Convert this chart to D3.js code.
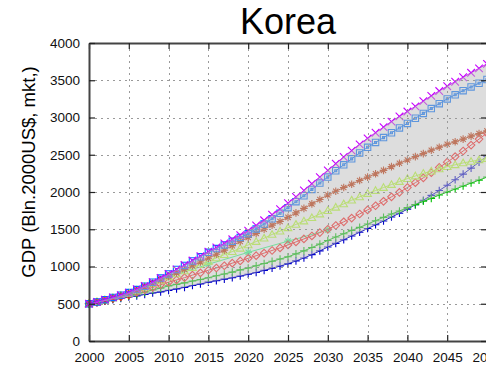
<!DOCTYPE html>
<html>
<head>
<meta charset="utf-8">
<script src="https://cdn.jsdelivr.net/npm/d3@7"></script>
<style>
  html, body { margin: 0; padding: 0; background: #fff; }
  svg { display: block; font-family: "Liberation Sans", Arial, sans-serif; }
</style>
</head>
<body>
<svg id="chart" width="486" height="368"></svg>
<script>
// GDP projections for Korea, billion 2000 US$ at market exchange rates
const years = d3.range(2000, 2051);

const magentaX = [500, 525, 555, 585, 615, 650, 695, 740, 790, 845, 900,
  960, 1020, 1080, 1140, 1200, 1255, 1310, 1365, 1420, 1480,
  1550, 1620, 1695, 1770, 1850, 1935, 2020, 2110, 2200, 2290,
  2380, 2470, 2555, 2640, 2720, 2795, 2870, 2945, 3015, 3080,
  3150, 3220, 3290, 3355, 3420, 3480, 3540, 3600, 3660, 3720];

const blueSquares = [500, 525, 555, 585, 615, 650, 690, 735, 790, 845, 900,
  960, 1015, 1075, 1130, 1190, 1240, 1290, 1340, 1390, 1440,
  1505, 1570, 1640, 1715, 1790, 1870, 1950, 2035, 2120, 2200,
  2285, 2365, 2445, 2525, 2600, 2665, 2730, 2795, 2860, 2920,
  2990, 3055, 3120, 3185, 3250, 3305, 3360, 3410, 3460, 3510];

const brownStars = [500, 525, 550, 580, 610, 640, 680, 725, 770, 820, 870,
  915, 960, 1010, 1060, 1110, 1165, 1220, 1280, 1335, 1390,
  1445, 1500, 1555, 1605, 1660, 1720, 1780, 1840, 1900, 1960,
  2010, 2060, 2105, 2155, 2200, 2245, 2290, 2340, 2385, 2430,
  2475, 2515, 2560, 2600, 2640, 2675, 2710, 2750, 2785, 2820];

const limeTriangles = [500, 525, 550, 580, 610, 640, 680, 725, 770, 815, 860,
  900, 940, 985, 1025, 1070, 1115, 1160, 1200, 1245, 1290,
  1335, 1380, 1430, 1475, 1520, 1565, 1610, 1655, 1705, 1750,
  1795, 1840, 1890, 1935, 1980, 2020, 2060, 2100, 2140, 2180,
  2215, 2250, 2280, 2310, 2340, 2365, 2390, 2410, 2430, 2450];

const redDiamonds = [500, 520, 545, 570, 595, 620, 655, 690, 720, 755, 790,
  820, 850, 885, 915, 950, 980, 1010, 1045, 1075, 1110,
  1145, 1180, 1215, 1250, 1290, 1330, 1370, 1410, 1455, 1500,
  1550, 1600, 1650, 1705, 1760, 1815, 1875, 1935, 1995, 2060,
  2125, 2190, 2260, 2330, 2400, 2475, 2550, 2630, 2710, 2790];

const greenPlus = [500, 520, 540, 560, 580, 600, 625, 655, 685, 710, 740,
  760, 780, 805, 825, 850, 875, 900, 925, 955, 980,
  1010, 1040, 1070, 1100, 1130, 1170, 1210, 1255, 1300, 1350,
  1395, 1440, 1485, 1525, 1570, 1615, 1660, 1705, 1745, 1790,
  1830, 1875, 1915, 1960, 2000, 2040, 2080, 2120, 2160, 2200];

const bluePlus = [500, 515, 535, 555, 570, 590, 605, 625, 645, 660, 680,
  700, 720, 745, 765, 790, 810, 830, 850, 872, 895,
  920, 948, 976, 1006, 1038, 1075, 1115, 1160, 1210, 1262,
  1310, 1360, 1410, 1460, 1510, 1560, 1610, 1665, 1715, 1770,
  1830, 1890, 1955, 2020, 2090, 2165, 2240, 2320, 2400, 2480];

// five-yearly series ending in 2030
const mintYears = [2000, 2005, 2010, 2015, 2020, 2025, 2030];
const mintStars = [500, 640, 860, 1030, 1190, 1340, 1490];

const xTicks = [2000, 2005, 2010, 2015, 2020, 2025, 2030, 2035, 2040, 2045, 2050];
const yTicks = [0, 500, 1000, 1500, 2000, 2500, 3000, 3500, 4000];

const series = [
  { x: years, y: bluePlus,      color: "#0000c8", marker: "plus" },
  { x: years, y: greenPlus,     color: "#00c000", marker: "plus" },
  { x: mintYears, y: mintStars, color: "#30ff80", marker: "star" },
  { x: years, y: redDiamonds,   color: "#ff2020", marker: "diamond" },
  { x: years, y: limeTriangles, color: "#b8ff30", marker: "triangle" },
  { x: years, y: brownStars,    color: "#c03000", marker: "star" },
  { x: years, y: blueSquares,   color: "#0070ff", marker: "square" },
  { x: years, y: magentaX,      color: "#c800ff", marker: "cross" }
];

const svg = d3.select("#chart");
const m = { left: 89, right: 487, top: 43, bottom: 341 };

const x = d3.scaleLinear().domain([2000, 2050]).range([m.left, m.right]);
const y = d3.scaleLinear().domain([0, 4000]).range([m.bottom, m.top]);

// title
svg.append("text")
  .attr("x", (m.left + m.right) / 2).attr("y", 34)
  .attr("text-anchor", "middle")
  .attr("font-size", 36).attr("fill", "#000")
  .text("Korea");

// y axis title
svg.append("text")
  .attr("transform", "translate(30,172) rotate(-90)")
  .attr("text-anchor", "middle")
  .attr("dominant-baseline", "middle")
  .attr("font-size", 18.5).attr("fill", "#000")
  .text("GDP (Bln.2000US$, mkt,)");

// series lines and markers
const line = d3.line().x(d => x(d[0])).y(d => y(d[1]));
const markerPath = {
  plus: s => `M${-s},0H${s}M0,${-s}V${s}`,
  cross: s => `M${-s},${-s}L${s},${s}M${-s},${s}L${s},${-s}`,
  star: s => `M${-s},0H${s}M0,${-s}V${s}M${-s*0.7},${-s*0.7}L${s*0.7},${s*0.7}M${-s*0.7},${s*0.7}L${s*0.7},${-s*0.7}`,
  diamond: s => `M0,${-s}L${s},0L0,${s}L${-s},0Z`,
  triangle: s => `M0,${-s}L${s},${s*0.75}L${-s},${s*0.75}Z`,
  square: s => `M${-s},${-s}H${s}V${s}H${-s}ZM-1,-1H1V1H-1Z`
};

const gSeries = svg.append("g");
series.forEach(sr => {
  const pts = sr.x.map((yr, i) => [yr, sr.y[i]]);
  gSeries.append("path")
    .attr("d", line(pts))
    .attr("fill", "none")
    .attr("stroke", sr.color)
    .attr("stroke-width", 1);
  gSeries.selectAll(null)
    .data(pts)
    .enter().append("path")
    .attr("transform", d => `translate(${x(d[0])},${y(d[1])})`)
    .attr("d", markerPath[sr.marker](sr.marker === "square" ? 3.2 : 3.8))
    .attr("fill", "none")
    .attr("stroke", sr.color)
    .attr("stroke-width", 1.1);
});

// translucent envelope between lowest and highest projection
const annual = series.filter(sr => sr.x === years);
const band = years.map((yr, i) => {
  const vals = annual.map(sr => sr.y[i]);
  return { yr, lo: d3.min(vals), hi: d3.max(vals) };
});
svg.append("path")
  .datum(band)
  .attr("d", d3.area().x(d => x(d.yr)).y0(d => y(d.lo)).y1(d => y(d.hi)))
  .attr("fill", "rgb(187,187,187)")
  .attr("fill-opacity", 0.5);

// dashed grid
const grid = svg.append("g")
  .attr("stroke", "#9a9a9a").attr("stroke-width", 1)
  .attr("stroke-dasharray", "2,4");
grid.selectAll(null).data(xTicks.slice(1, -1)).enter().append("line")
  .attr("x1", d => Math.round(x(d)) + 0.5).attr("x2", d => Math.round(x(d)) + 0.5)
  .attr("y1", m.top).attr("y2", m.bottom);
grid.selectAll(null).data(yTicks.slice(1, -1)).enter().append("line")
  .attr("y1", d => Math.round(y(d)) + 0.5).attr("y2", d => Math.round(y(d)) + 0.5)
  .attr("x1", m.left).attr("x2", m.right);

// axes with inward ticks
const axisStyle = g => {
  g.select(".domain").attr("stroke", "#444").attr("stroke-width", 2);
  g.selectAll(".tick line").attr("stroke", "#222").attr("stroke-width", 1.2);
  g.selectAll(".tick text").attr("font-size", 13.5).attr("fill", "#111")
    .attr("font-family", "'Liberation Sans', Arial, sans-serif");
};

svg.append("g")
  .attr("transform", `translate(0,${m.bottom})`)
  .call(d3.axisBottom(x).tickValues(xTicks).tickFormat(d3.format("d"))
    .tickSizeInner(-6).tickSizeOuter(0).tickPadding(11))
  .call(axisStyle);

svg.append("g")
  .attr("transform", `translate(0,${m.top})`)
  .call(d3.axisTop(x).tickValues(xTicks).tickFormat("")
    .tickSizeInner(-6).tickSizeOuter(0))
  .call(axisStyle);

svg.append("g")
  .attr("transform", `translate(${m.left},0)`)
  .call(d3.axisLeft(y).tickValues(yTicks).tickFormat(d3.format("d"))
    .tickSizeInner(-6).tickSizeOuter(0).tickPadding(9))
  .call(axisStyle);

svg.append("g")
  .attr("transform", `translate(${m.right},0)`)
  .call(d3.axisRight(y).tickValues(yTicks).tickFormat("")
    .tickSizeInner(-6).tickSizeOuter(0))
  .call(axisStyle);
</script>
</body>
</html>
